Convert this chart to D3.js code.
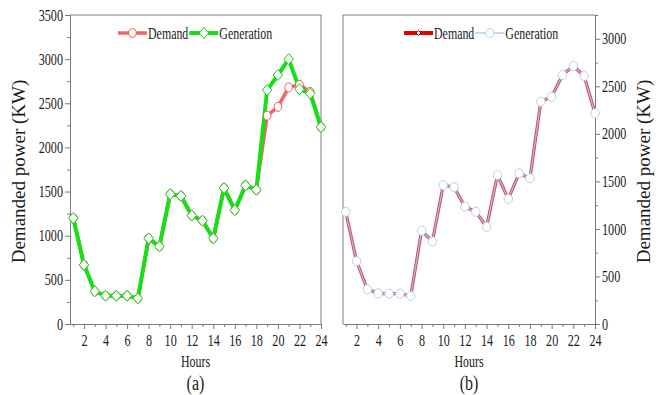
<!DOCTYPE html>
<html>
<head>
<meta charset="utf-8">
<script src="https://cdn.jsdelivr.net/npm/d3@7"></script>
<style>
  body { margin: 0; background: #fff; }
  svg, svg text { font-family: "Liberation Serif", "Times New Roman", serif; }
  .axis path, .axis line { stroke: #7a7a7a; }
  .axis text { font-size: 16px; fill: #1a1a1a; font-family: "Liberation Serif", "Times New Roman", serif; }
</style>
</head>
<body>
<div id="chart"></div>
<script>
const hours = [1, 2, 3, 4, 5, 6, 7, 8, 9, 10, 11, 12, 13, 14, 15, 16, 17, 18, 19, 20, 21, 22, 23, 24];
const hourTicks = [2, 4, 6, 8, 10, 12, 14, 16, 18, 20, 22, 24];

// panel (a)
const demandA = [1200, 670, 370, 320, 320, 320, 290, 970, 880, 1470, 1450, 1230, 1170, 970, 1540, 1290, 1570, 1520, 2360, 2460, 2680, 2710, 2630, 2230];
const generationA = [1200, 670, 370, 320, 320, 320, 290, 970, 880, 1470, 1450, 1230, 1170, 970, 1540, 1290, 1570, 1520, 2650, 2820, 3000, 2660, 2610, 2230];
const yTicksA = [0, 500, 1000, 1500, 2000, 2500, 3000, 3500];

// panel (b)
const demandB = [1180, 660, 365, 323, 320, 320, 294, 980, 868, 1462, 1438, 1234, 1181, 1022, 1567, 1315, 1585, 1532, 2338, 2391, 2619, 2714, 2608, 2216];
const generationB = [1180, 660, 365, 323, 320, 320, 294, 980, 868, 1462, 1438, 1234, 1181, 1022, 1567, 1315, 1585, 1532, 2338, 2391, 2619, 2714, 2608, 2216];
const yTicksB = [0, 500, 1000, 1500, 2000, 2500, 3000];

const width = 662, height = 395;
const svg = d3.select("#chart").append("svg")
  .attr("width", width)
  .attr("height", height);

// squeeze text horizontally, the source figure is a bit narrow
function squeeze(sel, factor) {
  sel.each(function () {
    const len = this.getComputedTextLength();
    d3.select(this).attr("textLength", len * factor).attr("lengthAdjust", "spacingAndGlyphs");
  });
}

// marker shapes, w = half width, h = half height
const markerPath = {
  circle: (w, h) => `M${w},0A${w},${h} 0 1,1 ${-w},0A${w},${h} 0 1,1 ${w},0Z`,
  diamond: (w, h) => `M0,${-h}L${w},0L0,${h}L${-w},0Z`
};

function drawPanel(p) {
  const x = d3.scaleLinear().domain(p.xDomain).range([p.left, p.right]);
  const y = d3.scaleLinear().domain(p.yDomain).range([p.bottom, p.top]);
  const g = svg.append("g");

  // frame lines
  g.append("line")
    .attr("x1", p.left).attr("x2", p.right)
    .attr("y1", p.top).attr("y2", p.top)
    .attr("stroke", "#7a7a7a");
  const frameX = p.yRight ? p.left : p.right;
  g.append("line")
    .attr("x1", frameX).attr("x2", frameX)
    .attr("y1", p.top).attr("y2", p.bottom)
    .attr("stroke", "#7a7a7a");

  // x axis: minor ticks then majors
  g.append("g").attr("class", "axis")
    .attr("transform", `translate(0,${p.bottom})`)
    .call(d3.axisBottom(x).tickValues(hours.filter(h => h % 2 === 1)).tickSize(3).tickFormat("").tickSizeOuter(0));
  const xa = g.append("g").attr("class", "axis")
    .attr("transform", `translate(0,${p.bottom})`)
    .call(d3.axisBottom(x).tickValues(hourTicks).tickSize(5).tickPadding(5).tickSizeOuter(0));
  xa.attr("font-family", null);
  xa.selectAll("text").attr("dy", "0.72em");
  squeeze(xa.selectAll("text"), 0.76);

  // y axis
  const yMinor = [];
  for (let i = 0; i < p.yTicks.length - 1; i++) yMinor.push((p.yTicks[i] + p.yTicks[i + 1]) / 2);
  if (p.yDomain[1] > p.yTicks[p.yTicks.length - 1]) yMinor.push(p.yTicks[p.yTicks.length - 1] + 250);
  const axisFn = p.yRight ? d3.axisRight : d3.axisLeft;
  const yPos = p.yRight ? p.right : p.left;
  g.append("g").attr("class", "axis")
    .attr("transform", `translate(${yPos},0)`)
    .call(axisFn(y).tickValues(yMinor).tickSize(3).tickFormat("").tickSizeOuter(0));
  const ya = g.append("g").attr("class", "axis")
    .attr("transform", `translate(${yPos},0)`)
    .call(axisFn(y).tickValues(p.yTicks).tickSize(5).tickPadding(2).tickFormat(d3.format("d")).tickSizeOuter(0));
  ya.attr("font-family", null);
  squeeze(ya.selectAll("text"), 0.76);

  // labels
  const hl = g.append("text")
    .attr("x", (p.left + p.right) / 2).attr("y", 367)
    .attr("text-anchor", "middle").attr("font-size", 17).attr("fill", "#1a1a1a")
    .text("Hours");
  squeeze(hl, 0.7);
  const pl = g.append("text")
    .attr("x", (p.left + p.right) / 2).attr("y", 390)
    .attr("text-anchor", "middle").attr("font-size", 20).attr("fill", "#1a1a1a")
    .text(p.tag);
  squeeze(pl, 0.8);
  g.append("text")
    .attr("transform", `translate(${p.yLabelX},${(p.top + p.bottom) / 2 + 2}) rotate(-90)`)
    .attr("text-anchor", "middle").attr("font-size", 19).attr("fill", "#1a1a1a")
    .text("Demanded power (KW)");

  const line = d3.line().x((d, i) => x(hours[i])).y(d => y(d));

  p.series.forEach(s => {
    s.strokes.forEach(st => {
      g.append("path").datum(s.values)
        .attr("d", line)
        .attr("fill", "none")
        .attr("stroke", st.color)
        .attr("stroke-width", st.width)
        .attr("stroke-linejoin", "round");
    });
  });
  p.series.forEach(s => {
    if (!s.marker) return;
    const m = s.marker;
    g.append("g").selectAll("path")
      .data(s.values)
      .join("path")
      .attr("transform", (d, i) => `translate(${x(hours[i])},${y(d)})`)
      .attr("d", markerPath[m.type](m.w, m.h))
      .attr("fill", "#fff")
      .attr("stroke", m.color)
      .attr("stroke-width", 1);
  });

  // legend
  let lx = p.legendX;
  const ly = 33;
  p.series.forEach(s => {
    const lg = s.legendStrokes || s.strokes;
    lg.forEach(st => {
      g.append("line")
        .attr("x1", lx).attr("x2", lx + 29)
        .attr("y1", ly).attr("y2", ly)
        .attr("stroke", st.color).attr("stroke-width", st.width);
    });
    const lm = s.legendMarker || s.marker;
    if (lm) {
      g.append("path")
        .attr("transform", `translate(${lx + 14.5},${ly})`)
        .attr("d", markerPath[lm.type](lm.w, lm.h))
        .attr("fill", "#fff").attr("stroke", lm.color).attr("stroke-width", 1);
    }
    const t = g.append("text")
      .attr("x", lx + 30).attr("y", ly + 6)
      .attr("font-size", 17).attr("fill", "#1a1a1a")
      .text(s.name);
    squeeze(t, 0.7);
    lx += 30 + t.node().getComputedTextLength() + 1;
  });
}

drawPanel({
  left: 70, right: 321, top: 15, bottom: 324,
  xDomain: [0.7, 24], yDomain: [0, 3500], yTicks: yTicksA,
  yRight: false, yLabelX: 25, tag: "(a)", legendX: 118,
  series: [
    { name: "Demand", values: demandA,
      strokes: [{ color: "#f26464", width: 3.5 }],
      marker: { type: "circle", w: 3.8, h: 4.5, color: "#f05a5a" } },
    { name: "Generation", values: generationA,
      strokes: [{ color: "#14e014", width: 4 }],
      marker: { type: "diamond", w: 4.8, h: 5.5, color: "#10d010" } }
  ]
});

drawPanel({
  left: 343, right: 595, top: 15, bottom: 324,
  xDomain: [0.75, 24], yDomain: [0, 3250], yTicks: yTicksB,
  yRight: true, yLabelX: 650, tag: "(b)", legendX: 404,
  series: [
    { name: "Demand", values: demandB,
      strokes: [{ color: "#d84a55", width: 3.2 }],
      legendStrokes: [{ color: "#e00000", width: 4 }],
      legendMarker: { type: "diamond", w: 2.5, h: 2.5, color: "#900" } },
    { name: "Generation", values: generationB,
      strokes: [{ color: "#a8c4e6", width: 1.2 }],
      legendStrokes: [{ color: "#b0cdee", width: 1.5 }],
      marker: { type: "circle", w: 4.2, h: 4.5, color: "#b8d2ee" } }
  ]
});
</script>
</body>
</html>
